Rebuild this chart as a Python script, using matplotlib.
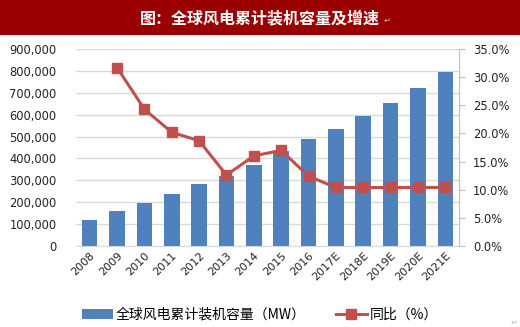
import matplotlib
matplotlib.use("Agg")
import matplotlib.pyplot as plt
from matplotlib.ticker import FuncFormatter, MultipleLocator
from matplotlib.patches import Rectangle

plt.rcParams['font.family'] = ['Noto Sans CJK SC', 'DejaVu Sans']

years = ["2008", "2009", "2010", "2011", "2012", "2013", "2014", "2015", "2016",
         "2017E", "2018E", "2019E", "2020E", "2021E"]
capacity = [120700, 158900, 198000, 238100, 282800, 318700, 369800, 432700, 487000,
            535000, 592000, 654000, 723000, 797000]
yoy_years = years[1:]
yoy = [31.7, 24.3, 20.2, 18.7, 12.6, 16.0, 17.0, 12.4, 10.4, 10.4, 10.4, 10.4, 10.4]

title = "图：全球风电累计装机容量及增速"
bar_label = "全球风电累计装机容量（MW）"
line_label = "同比（%）"

BAR = "#4F81BD"
LINE = "#C0504D"
GRID = "#D9D9D9"

fig = plt.figure(figsize=(5.2, 3.27), dpi=100)
fig.patches.append(Rectangle((0, 1 - 35/327), 1, 35/327, transform=fig.transFigure,
                             facecolor="#9B0000", edgecolor="none", zorder=0))
fig.text(0.5, 1 - 18/327, title, color="white", fontsize=11.5, fontweight="bold",
         ha="center", va="center")
fig.text(384/520, 1 - 20/327, "↵", color="#BBBBBB", fontsize=6, ha="left", va="center",
         family="DejaVu Sans")

ax = fig.add_axes([76/520, 1 - 246/327, (459 - 76)/520, (246 - 49)/327])
x = list(range(len(years)))
ax.bar(x, capacity, width=0.57, color=BAR, zorder=2, label=bar_label)
ax.set_ylim(0, 900000)
ax.set_xlim(-0.5, len(years) - 0.5)
ax.yaxis.set_major_locator(MultipleLocator(100000))
ax.yaxis.set_major_formatter(FuncFormatter(lambda v, p: f"{int(v):,}"))
ax.grid(axis="y", color=GRID, linewidth=1, zorder=0)
ax.set_axisbelow(True)
for s in ["top", "left", "right"]:
    ax.spines[s].set_visible(False)
ax.spines["bottom"].set_color(GRID)
ax.tick_params(axis="y", length=0, labelsize=8.3, pad=14, labelcolor="#222222")
ax.tick_params(axis="x", length=0, labelsize=8, pad=3, labelcolor="#222222")
ax.set_xticks(x)
ax.set_xticklabels(years, rotation=45, ha="right", rotation_mode="anchor",
                   family="DejaVu Sans")
for lab in ax.get_yticklabels():
    lab.set_family("DejaVu Sans")

ax2 = ax.twinx()
xi = [years.index(y) for y in yoy_years]
ax2.plot(xi, yoy, color=LINE, linewidth=2.2, marker="s", markersize=7,
         markerfacecolor=LINE, markeredgecolor=LINE, zorder=3, label=line_label)
ax2.set_ylim(0, 35)
ax2.yaxis.set_major_locator(MultipleLocator(5))
ax2.yaxis.set_major_formatter(FuncFormatter(lambda v, p: f"{v:.1f}%"))
for s in ["top", "left", "bottom"]:
    ax2.spines[s].set_visible(False)
ax2.spines["right"].set_color("#BFBFBF")
ax2.tick_params(axis="y", length=4, color="#BFBFBF", labelsize=8.3, pad=6,
                labelcolor="#222222")
for lab in ax2.get_yticklabels():
    lab.set_family("DejaVu Sans")

h1, l1 = ax.get_legend_handles_labels()
h2, l2 = ax2.get_legend_handles_labels()
fig.legend(h1 + h2, l1 + l2, loc="center", bbox_to_anchor=(0.5, 1 - 315/327),
           ncol=2, frameon=False, fontsize=10, handlelength=2.2, columnspacing=2.2,
           handletextpad=0.2)
fig.text(514/520, 1 - 322/327, "↵", color="#BBBBBB", fontsize=6, ha="center",
         va="center", family="DejaVu Sans")

fig.savefig("out.png", dpi=100)
